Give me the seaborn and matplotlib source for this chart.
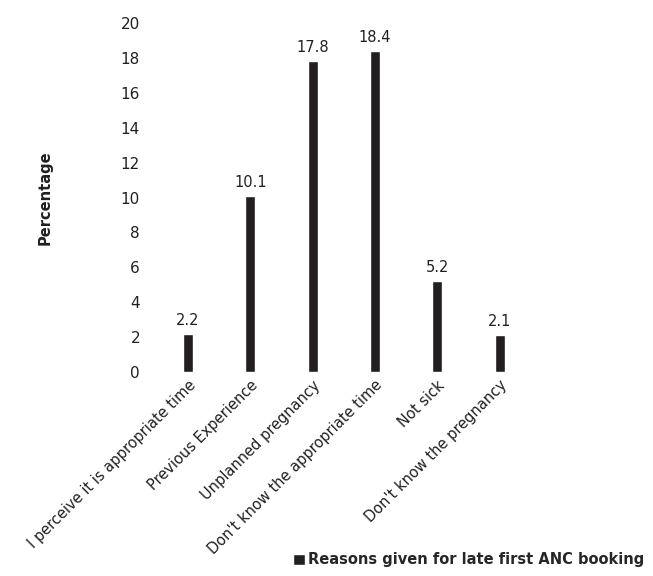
import pandas as pd
import numpy as np
import matplotlib
matplotlib.use("Agg")
import matplotlib.pyplot as plt
import seaborn as sns

# Data
reasons = [
    "I perceive it is appropriate time",
    "Previous Experience",
    "Unplanned pregnancy",
    "Don't know the appropriate time",
    "Not sick",
    "Don't know the pregnancy",
]
percentages = [2.2, 10.1, 17.8, 18.4, 5.2, 2.1]
series_name = "Reasons given for late first ANC booking"

df = pd.DataFrame({"reason": reasons, "pct": percentages})

sns.set_style("white")
plt.rcParams['font.family'] = ['DejaVu Sans']

fig = plt.figure(figsize=(6.53, 5.76), dpi=100)
ax = fig.add_axes([0.240, 0.354, 0.573, 0.606])

sns.barplot(data=df, x="reason", y="pct", color="#231f20", width=0.16,
            saturation=1, ax=ax, label=series_name)

# value labels above bars
for i, v in enumerate(percentages):
    ax.text(i, v + 0.35, f"{v}", ha="center", va="bottom", fontsize=10.5, color="#231f20")

ax.set_ylim(0, 20)
ax.set_yticks(range(0, 21, 2))
ax.set_xlim(-0.5, len(reasons) - 0.5)
ax.tick_params(axis="y", length=0, pad=12, labelsize=11, labelcolor="#231f20")
ax.tick_params(axis="x", length=0, pad=4, labelsize=10.5, labelcolor="#231f20")
plt.setp(ax.get_xticklabels(), rotation=45, ha="right", rotation_mode="anchor")
ax.set_xlabel("")
ax.set_ylabel("Percentage", fontsize=10.5, fontweight="bold", labelpad=49, color="#231f20")
sns.despine(ax=ax, left=True, bottom=True)

ax.legend(loc="lower right", bbox_to_anchor=(1.0, 0.0), bbox_transform=fig.transFigure,
          frameon=False, prop={"weight": "bold", "size": 10.5},
          handlelength=0.8, handleheight=0.8, handletextpad=0.2, borderaxespad=0.2)

fig.savefig("out.png", dpi=100)
